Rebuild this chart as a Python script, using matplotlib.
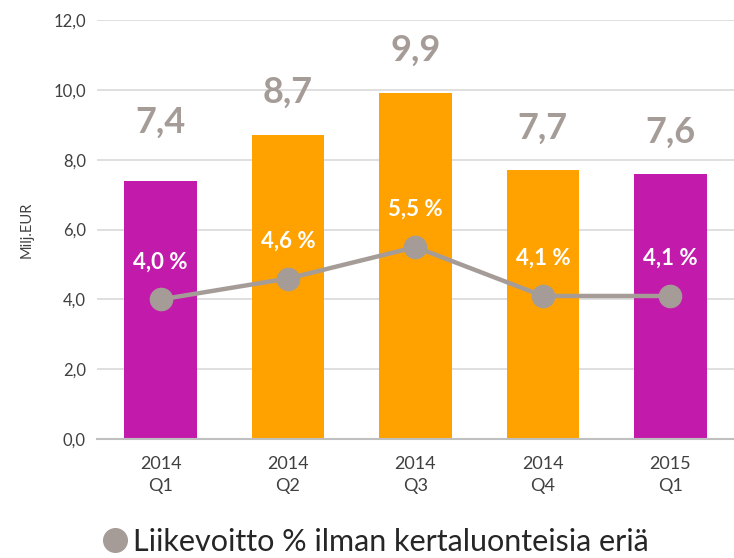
import matplotlib
matplotlib.use("Agg")
import matplotlib.pyplot as plt
from matplotlib.lines import Line2D

categories = ["2014\nQ1", "2014\nQ2", "2014\nQ3", "2014\nQ4", "2015\nQ1"]
revenue = [7.4, 8.7, 9.9, 7.7, 7.6]
margin_pct = [4.0, 4.6, 5.5, 4.1, 4.1]
bar_colors = ["#C21BAB", "#FFA200", "#FFA200", "#FFA200", "#C21BAB"]
yticks = [0, 2, 4, 6, 8, 10, 12]

# label offsets (points) above bar tops
label_offsets = [42, 31, 31, 30, 30]

plt.rcParams['font.family'] = ['Lato', 'DejaVu Sans']

fig = plt.figure(figsize=(7.34, 5.58), dpi=100)
ax = fig.add_axes([0.132, 0.213, 0.868, 0.751])

x = list(range(len(categories)))
ax.bar(x, revenue, width=0.57, color=bar_colors, zorder=2)
ax.plot(x, margin_pct, color="#A59C98", lw=3.2, marker="o", ms=16, zorder=3)

def fmt(v):
    return f"{v:.1f}".replace(".", ",")

for xi, v, off in zip(x, revenue, label_offsets):
    ax.annotate(fmt(v), (xi, v), xytext=(0, off), textcoords="offset points",
                ha="center", va="center", fontsize=26, fontweight="bold", color="#A59C98")
for xi, p in zip(x, margin_pct):
    ax.annotate(fmt(p) + " %", (xi, p), xytext=(0, 27), textcoords="offset points",
                ha="center", va="center", fontsize=16, fontweight="bold", color="white", zorder=4)

ax.set_xlim(-0.5, 4.5)
ax.set_ylim(0, 12)
ax.set_yticks(yticks)
ax.set_yticklabels([fmt(t) for t in yticks], fontsize=12, color="#404040")
ax.set_xticks(x)
ax.set_xticklabels(categories, fontsize=13, color="#404040", linespacing=1.45)
ax.tick_params(axis="both", length=0, pad=12)
ax.tick_params(axis="y", pad=8)
ax.grid(axis="y", color="#D9D9D9", lw=1.2, zorder=0)
for s in ["top", "right", "left"]:
    ax.spines[s].set_visible(False)
ax.spines["bottom"].set_color("#BFBFBF")
ax.spines["bottom"].set_linewidth(1.5)
ax.set_ylabel("Milj.EUR", fontsize=10.5, color="#404040", labelpad=14)

handle = Line2D([], [], marker="o", color="#A59C98", lw=0, ms=17)
fig.legend([handle], ["Liikevoitto % ilman kertaluonteisia eriä"], loc="lower left",
           bbox_to_anchor=(0.1, -0.045), frameon=False, fontsize=22, handletextpad=0.15,
           handlelength=0.9, labelcolor="#262626")

fig.savefig("out.png", dpi=100)
